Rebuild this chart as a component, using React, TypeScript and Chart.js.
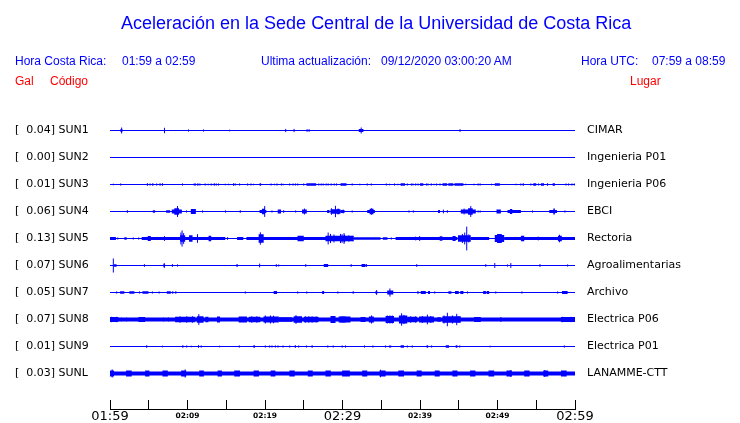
import React, { useEffect, useRef } from 'react';
import { Chart, registerables } from 'chart.js';

Chart.register(...registerables);

const BLUE = '#0000ff';
const RED = '#ff0000';

const stationCodes = ['SUN1', 'SUN2', 'SUN3', 'SUN4', 'SUN5', 'SUN6', 'SUN7', 'SUN8', 'SUN9', 'SUNL'];
const stationPlaces = ['CIMAR', 'Ingenieria P01', 'Ingenieria P06', 'EBCI', 'Rectoria', 'Agroalimentarias', 'Archivo', 'Electrica P06', 'Electrica P01', 'LANAMME-CTT'];
const stationPeaks = [0.04, 0.0, 0.01, 0.06, 0.13, 0.07, 0.05, 0.07, 0.01, 0.03];
// continuous background noise half-amplitude (fraction of trace spacing)
const stationNoise = [0, 0, 0, 0, 0, 0, 0, 0.07, 0, 0.075];

// minutes after 01:59
const tickMinutes = [0, 5, 10, 15, 20, 25, 30, 35, 40, 45, 50, 55, 60];
const tickLabels = ['01:59', '', '02:09', '', '02:19', '', '02:29', '', '02:39', '', '02:49', '', '02:59'];
const majorLabels = ['01:59', '02:29', '02:59'];

type Ev = [number, number, number]; // [start minute, end minute, half amplitude]

const sun1Events: Ev[] = [
  [1.35, 1.6, 0.06], [1.5, 1.5, 0.11], [7.03, 7.03, 0.1], [10.13, 10.13, 0.04], [12.07, 12.07, 0.04],
  [15.43, 15.43, 0.03], [22.67, 22.67, 0.06], [23.75, 23.75, 0.06], [25.43, 25.43, 0.05], [25.69, 25.69, 0.05],
  [32.1, 32.7, 0.06], [32.41, 32.41, 0.11], [45.17, 45.17, 0.05],
];
const sun2Events: Ev[] = [];
const sun3Events: Ev[] = [
  [0.43, 0.43, 0.03], [1.38, 1.38, 0.04], [4.83, 4.83, 0.05], [5.17, 5.17, 0.04], [5.52, 5.52, 0.05], [6.03, 6.03, 0.04],
  [6.46, 6.46, 0.05], [6.77, 6.77, 0.05], [9.35, 9.35, 0.04], [10.8, 11.1, 0.04], [11.34, 11.34, 0.05], [11.6, 11.6, 0.04],
  [12.28, 12.28, 0.04], [12.67, 12.67, 0.03], [13.06, 13.06, 0.04], [13.45, 13.45, 0.05], [13.71, 13.71, 0.04],
  [14.01, 14.01, 0.04], [14.87, 14.87, 0.03], [15.3, 15.3, 0.03], [15.95, 15.95, 0.05], [16.16, 16.16, 0.04],
  [16.72, 16.72, 0.04], [17.76, 17.76, 0.04], [18.19, 18.19, 0.04], [18.53, 18.53, 0.03], [19.3, 19.5, 0.05],
  [20.78, 20.78, 0.04], [21.21, 21.21, 0.03], [21.55, 21.55, 0.04], [22.11, 22.11, 0.04], [22.33, 22.33, 0.03],
  [23.19, 23.19, 0.04], [23.62, 23.62, 0.04], [23.92, 23.92, 0.04], [24.22, 24.22, 0.04], [25.0, 25.0, 0.04],
  [25.34, 26.6, 0.05], [26.94, 26.94, 0.04], [27.24, 27.24, 0.04], [27.5, 27.5, 0.04], [27.89, 27.89, 0.04],
  [28.15, 28.15, 0.04], [28.53, 28.53, 0.04], [28.92, 28.92, 0.04], [29.22, 29.22, 0.04], [29.74, 30.52, 0.05],
  [31.25, 31.25, 0.04], [32.24, 32.24, 0.03], [33.19, 33.19, 0.04], [33.71, 33.71, 0.04], [35.65, 35.65, 0.04],
  [36.08, 36.08, 0.03], [36.72, 36.72, 0.04], [37.15, 37.15, 0.03], [37.5, 38.06, 0.05], [38.36, 38.36, 0.04],
  [38.88, 38.88, 0.04], [39.09, 39.09, 0.04], [39.44, 39.44, 0.04], [39.74, 39.74, 0.04], [40.0, 40.43, 0.05],
  [40.82, 40.82, 0.04], [41.03, 41.03, 0.04], [41.46, 41.46, 0.04], [41.81, 41.81, 0.03], [42.15, 42.15, 0.04],
  [42.58, 42.58, 0.04], [42.9, 43.5, 0.05], [43.65, 44.3, 0.05], [44.45, 45.6, 0.05], [45.9, 45.9, 0.03],
  [46.98, 46.98, 0.03], [47.5, 47.5, 0.04], [47.76, 47.76, 0.04], [49.22, 49.22, 0.03], [49.65, 50.3, 0.05],
  [52.37, 52.37, 0.03], [53.02, 53.02, 0.04], [53.32, 53.32, 0.05], [54.31, 54.31, 0.04], [54.61, 55.0, 0.05],
  [55.3, 55.3, 0.04], [55.6, 56.0, 0.05], [56.46, 56.46, 0.05], [57.11, 57.41, 0.05], [58.84, 58.84, 0.04],
  [59.18, 59.18, 0.04], [59.61, 59.61, 0.04], [59.91, 59.91, 0.04],
];
const sun4Events: Ev[] = [
  [2.24, 2.24, 0.05], [5.52, 5.82, 0.05], [7.24, 7.76, 0.05], [7.97, 9.27, 0.07], [8.3, 8.9, 0.12], [8.71, 8.71, 0.2],
  [9.87, 9.87, 0.04], [10.43, 11.08, 0.09], [11.94, 11.94, 0.04], [14.91, 14.91, 0.04], [16.81, 16.81, 0.05],
  [19.3, 20.17, 0.06], [19.6, 20.0, 0.1], [19.96, 19.96, 0.2], [20.9, 20.9, 0.04], [21.64, 22.07, 0.07],
  [22.41, 22.41, 0.05], [23.96, 23.96, 0.04], [24.78, 25.39, 0.07], [25.09, 25.09, 0.11], [28.02, 28.32, 0.06],
  [28.45, 29.74, 0.08], [28.58, 28.58, 0.12], [29.09, 29.09, 0.21], [29.3, 29.6, 0.1], [30.09, 30.09, 0.07],
  [29.74, 30.26, 0.06], [31.25, 31.25, 0.04], [33.19, 34.18, 0.06], [33.5, 34.0, 0.1], [33.75, 33.75, 0.12],
  [38.58, 38.58, 0.04], [39.14, 39.14, 0.04], [42.33, 42.58, 0.06], [43.02, 43.02, 0.07], [43.53, 43.53, 0.05],
  [45.26, 47.2, 0.07], [45.69, 45.69, 0.11], [46.2, 46.8, 0.12], [46.55, 46.55, 0.2], [47.5, 47.5, 0.04],
  [47.76, 47.76, 0.04], [49.87, 50.43, 0.07], [51.29, 53.02, 0.06], [51.6, 51.9, 0.09], [54.52, 54.52, 0.04],
  [56.68, 57.67, 0.06], [57.2, 57.4, 0.11], [58.7, 58.7, 0.04],
];
const sun5Events: Ev[] = [
  [0.0, 0.77, 0.06], [1.0, 1.0, 0.04], [1.85, 2.15, 0.05], [3.0, 3.0, 0.04], [3.7, 3.7, 0.04], [4.09, 14.87, 0.06],
  [4.87, 5.26, 0.09], [7.03, 7.03, 0.09], [9.05, 9.7, 0.12], [9.15, 9.15, 0.22], [9.3, 9.3, 0.3], [9.5, 9.5, 0.2],
  [10.2, 10.65, 0.12], [11.29, 11.29, 0.16], [12.72, 13.06, 0.1], [15.17, 15.17, 0.05], [16.4, 17.2, 0.06],
  [17.6, 30.4, 0.06], [19.18, 19.83, 0.16], [19.4, 19.4, 0.23], [24.2, 25.0, 0.1], [27.8, 30.4, 0.1],
  [28.15, 28.15, 0.22], [28.45, 28.45, 0.17], [28.9, 28.9, 0.15], [29.74, 29.74, 0.17], [30.2, 30.2, 0.2],
  [29.74, 31.46, 0.1], [29.95, 29.95, 0.16], [30.26, 30.26, 0.14], [30.82, 30.82, 0.12], [31.25, 31.25, 0.1],
  [31.46, 34.91, 0.05], [35.2, 35.8, 0.05], [36.3, 36.3, 0.04], [36.85, 44.83, 0.06], [39.44, 39.44, 0.07],
  [39.96, 39.96, 0.09], [42.54, 42.89, 0.08], [44.2, 44.6, 0.09], [44.9, 46.55, 0.12], [45.47, 45.47, 0.17],
  [45.77, 45.77, 0.22], [46.03, 46.03, 0.44], [46.3, 46.3, 0.15], [46.55, 48.92, 0.06], [49.65, 50.86, 0.13],
  [49.95, 50.55, 0.17], [50.86, 60.0, 0.06], [53.02, 53.45, 0.1], [55.26, 55.26, 0.07], [57.8, 58.3, 0.1],
  [58.0, 58.0, 0.14],
];
const sun6Events: Ev[] = [
  [0.43, 0.43, 0.26], [0.5, 0.85, 0.05], [4.44, 4.44, 0.05], [6.9, 7.1, 0.06], [7.0, 7.0, 0.09], [8.06, 8.06, 0.05],
  [8.71, 8.71, 0.04], [16.3, 16.5, 0.05], [19.31, 19.31, 0.07], [21.46, 21.46, 0.05], [21.77, 21.77, 0.04],
  [25.26, 25.26, 0.05], [27.58, 28.15, 0.06], [31.12, 31.12, 0.05], [32.46, 32.97, 0.06], [33.1, 33.1, 0.05],
  [39.5, 39.65, 0.05], [48.49, 48.49, 0.05], [49.65, 49.65, 0.09], [51.29, 51.29, 0.04], [51.72, 51.72, 0.09],
  [55.4, 55.55, 0.05], [59.05, 59.05, 0.04],
];
const sun7Events: Ev[] = [
  [0.86, 0.86, 0.04], [1.3, 1.85, 0.05], [2.5, 3.15, 0.05], [3.8, 3.8, 0.04], [4.18, 4.96, 0.05], [5.47, 5.47, 0.04],
  [6.34, 6.34, 0.04], [7.33, 7.85, 0.05], [8.1, 8.1, 0.05], [8.49, 8.49, 0.05], [17.46, 17.46, 0.04],
  [21.12, 21.55, 0.06], [24.22, 24.22, 0.04], [25.39, 25.39, 0.04], [27.37, 27.63, 0.06], [29.4, 29.4, 0.04],
  [31.38, 31.38, 0.05], [34.26, 34.48, 0.06], [34.4, 34.4, 0.09], [35.77, 36.55, 0.07], [36.12, 36.12, 0.15],
  [39.74, 39.74, 0.06], [40.1, 40.75, 0.06], [41.03, 41.29, 0.06], [41.9, 41.9, 0.04], [43.66, 44.05, 0.05],
  [44.52, 45.0, 0.06], [45.2, 45.6, 0.06], [46.12, 46.12, 0.04], [48.15, 48.5, 0.06], [48.6, 48.92, 0.06],
  [49.78, 49.78, 0.04], [53.15, 53.15, 0.04], [57.76, 57.76, 0.04], [58.32, 59.05, 0.06],
];
const sun8Events: Ev[] = [
  [0.0, 1.08, 0.09], [0.2, 0.2, 0.1], [0.85, 0.85, 0.1], [1.5, 1.5, 0.07], [2.15, 2.15, 0.07], [3.66, 4.53, 0.09],
  [6.9, 6.9, 0.07], [7.55, 7.55, 0.07], [8.4, 11.0, 0.1], [9.05, 9.05, 0.12], [9.9, 9.9, 0.12], [10.65, 10.65, 0.12],
  [11.2, 12.07, 0.12], [11.46, 11.46, 0.2], [12.3, 12.7, 0.1], [13.8, 14.2, 0.11], [16.6, 17.67, 0.11],
  [17.9, 19.4, 0.1], [18.3, 18.3, 0.12], [18.95, 18.95, 0.12], [19.8, 21.77, 0.11], [20.04, 20.04, 0.15],
  [20.7, 20.7, 0.15], [21.1, 21.1, 0.14], [21.77, 23.5, 0.08], [23.7, 24.78, 0.12], [24.0, 24.0, 0.16],
  [25.0, 26.9, 0.1], [25.2, 25.2, 0.12], [25.65, 25.65, 0.12], [26.08, 26.08, 0.12], [26.6, 26.6, 0.11],
  [28.45, 29.1, 0.13], [29.5, 30.4, 0.11], [29.74, 31.03, 0.11], [32.33, 32.97, 0.09], [33.4, 34.05, 0.11],
  [33.75, 33.75, 0.15], [35.56, 36.64, 0.13], [35.78, 35.78, 0.15], [36.12, 36.12, 0.15], [36.42, 36.42, 0.15],
  [37.28, 38.36, 0.15], [37.63, 37.63, 0.23], [37.93, 37.93, 0.17], [38.36, 39.65, 0.1], [38.8, 38.8, 0.12],
  [39.44, 39.44, 0.12], [39.87, 41.81, 0.11], [40.3, 40.3, 0.13], [40.95, 40.95, 0.18], [41.38, 41.38, 0.13],
  [42.24, 42.67, 0.08], [42.89, 45.26, 0.12], [43.1, 43.1, 0.15], [43.53, 43.53, 0.25], [44.18, 44.18, 0.15],
  [44.74, 44.74, 0.21], [45.04, 45.04, 0.12], [46.98, 47.84, 0.09], [50.43, 50.43, 0.09], [58.19, 60.0, 0.09],
  [58.4, 58.4, 0.1], [59.48, 59.48, 0.1],
];
const sun9Events: Ev[] = [
  [4.74, 4.74, 0.05], [6.77, 6.77, 0.03], [9.4, 9.4, 0.05], [9.9, 9.9, 0.04], [10.47, 10.47, 0.03], [11.42, 11.42, 0.05],
  [11.77, 11.77, 0.04], [14.14, 14.14, 0.03], [16.68, 16.68, 0.04], [18.5, 18.7, 0.05], [20.04, 20.04, 0.04],
  [20.6, 20.6, 0.04], [20.9, 20.9, 0.04], [21.34, 21.34, 0.04], [21.68, 21.68, 0.04], [22.33, 22.33, 0.04],
  [23.19, 23.19, 0.04], [23.84, 24.0, 0.05], [24.35, 24.35, 0.04], [25.34, 25.34, 0.04], [26.08, 26.08, 0.05],
  [28.1, 28.1, 0.04], [28.8, 28.8, 0.04], [29.96, 29.96, 0.04], [30.39, 30.39, 0.04], [32.84, 32.84, 0.04],
  [33.92, 33.92, 0.04], [35.56, 35.56, 0.04], [35.99, 36.29, 0.04], [37.5, 37.93, 0.05], [38.36, 38.36, 0.04],
  [39.0, 39.0, 0.04], [40.85, 41.05, 0.05], [41.5, 41.5, 0.04], [43.32, 43.75, 0.05], [44.61, 44.83, 0.05],
  [45.13, 45.13, 0.04], [49.05, 49.05, 0.03], [58.62, 58.62, 0.04],
];
const sunLEvents: Ev[] = [
  [0.0, 0.52, 0.11], [0.28, 0.28, 0.15], [2.07, 2.8, 0.11], [4.53, 5.09, 0.11], [6.77, 7.46, 0.11], [9.18, 9.83, 0.11],
  [9.7, 9.7, 0.15], [11.51, 12.11, 0.11], [13.88, 14.44, 0.11], [16.03, 16.77, 0.11], [18.53, 19.22, 0.11],
  [20.73, 21.34, 0.11], [23.15, 23.84, 0.11], [25.52, 26.16, 0.11], [27.8, 28.49, 0.11], [29.95, 30.95, 0.11],
  [32.54, 33.19, 0.11], [34.78, 35.56, 0.11], [34.9, 34.9, 0.14], [37.2, 37.93, 0.11], [39.57, 40.21, 0.11],
  [41.9, 42.54, 0.11], [44.18, 44.83, 0.11], [46.46, 47.15, 0.11], [48.84, 49.57, 0.11], [51.16, 51.85, 0.11],
  [51.72, 51.72, 0.13], [53.45, 54.14, 0.11], [55.9, 56.55, 0.11], [56.1, 56.1, 0.13], [58.19, 58.92, 0.11],
];

const stationEvents = [sun1Events, sun2Events, sun3Events, sun4Events, sun5Events, sun6Events, sun7Events, sun8Events, sun9Events, sunLEvents];

const leftLabels = stationCodes.map((c, i) => `[${stationPeaks[i].toFixed(2).padStart(6, ' ')}] ${c}`);

const pxPerUnit = (chart: any) => {
  const s = chart.scales.y;
  return Math.abs(s.getPixelForValue(1) - s.getPixelForValue(0));
};
const pxPerMin = (chart: any) => {
  const s = chart.scales.x;
  return Math.abs(s.getPixelForValue(1) - s.getPixelForValue(0));
};

const textBase: React.CSSProperties = {
  position: 'absolute',
  whiteSpace: 'pre',
  fontFamily: '"Liberation Sans", Arial, sans-serif',
  lineHeight: 1,
  margin: 0,
};

export default function App() {
  const ref = useRef<HTMLCanvasElement>(null);

  useEffect(() => {
    const canvas = ref.current;
    if (!canvas) return;
    const datasets: any[] = [];
    stationCodes.forEach((code, i) => {
      datasets.push({
        type: 'line',
        label: code + ' base',
        data: [{ x: 0, y: i }, { x: 60, y: i }],
        borderColor: BLUE,
        backgroundColor: BLUE,
        pointRadius: 0,
        fill: false,
        tension: 0,
        borderCapStyle: 'butt',
        borderWidth: (ctx: any) => Math.max(1, 2 * stationNoise[i] * pxPerUnit(ctx.chart)),
      });
      datasets.push({
        type: 'scatter',
        label: code,
        data: stationEvents[i].map(([t0, t1, a]) => ({ x: (t0 + t1) / 2, y: i, a, d: t1 - t0 })),
        pointStyle: 'line',
        pointRotation: 90,
        pointBorderColor: BLUE,
        pointBackgroundColor: BLUE,
        pointRadius: (ctx: any) => (ctx.raw ? ctx.raw.a * pxPerUnit(ctx.chart) : 0),
        pointBorderWidth: (ctx: any) => (ctx.raw ? Math.max(1, ctx.raw.d * pxPerMin(ctx.chart)) : 1),
      });
    });

    const yCommon = {
      type: 'linear',
      min: -1,
      max: 10.3148,
      reverse: true,
      grid: { display: false, drawTicks: false },
      border: { display: false },
      afterBuildTicks: (s: any) => {
        s.ticks = stationCodes.map((_, i) => ({ value: i }));
      },
    };

    const chart = new Chart(canvas, {
      type: 'scatter',
      data: { datasets },
      options: {
        responsive: false,
        animation: false,
        events: [],
        layout: { padding: { left: 15, top: 103.5, right: 0, bottom: 0 } },
        plugins: {
          legend: { display: false },
          tooltip: { enabled: false },
          title: { display: false },
        },
        scales: {
          x: {
            type: 'linear',
            position: 'bottom',
            min: 0,
            max: 60,
            afterBuildTicks: (s: any) => {
              s.ticks = tickMinutes.map((v) => ({ value: v }));
            },
            afterFit: (s: any) => {
              s.height = 14;
            },
            grid: {
              drawOnChartArea: false,
              drawTicks: true,
              tickLength: -9,
              color: '#000',
              tickColor: '#000',
              tickWidth: 1,
            },
            border: { display: true, color: '#000', width: 1 },
            ticks: {
              autoSkip: false,
              maxRotation: 0,
              minRotation: 0,
              padding: 10,
              color: '#000',
              callback: (_v: any, idx: number) => tickLabels[idx],
              font: (ctx: any) => {
                const lbl = tickLabels[ctx.index] || '';
                const big = majorLabels.includes(lbl);
                return {
                  family: '"DejaVu Sans", sans-serif',
                  size: big ? 13 : 7.5,
                  weight: big ? 'normal' : 'bold',
                  lineHeight: '13px',
                };
              },
            },
          },
          y: {
            ...yCommon,
            position: 'left',
            afterFit: (s: any) => {
              s.width = 95;
              s.paddingTop = 0;
              s.paddingBottom = 0;
            },
            ticks: {
              autoSkip: false,
              crossAlign: 'far',
              padding: 0,
              color: '#000',
              font: { family: '"DejaVu Sans", sans-serif', size: 11 },
              callback: (v: any) => leftLabels[v] ?? '',
            },
          },
          y2: {
            ...yCommon,
            position: 'right',
            afterFit: (s: any) => {
              s.width = 165;
              s.paddingTop = 0;
              s.paddingBottom = 0;
            },
            ticks: {
              autoSkip: false,
              crossAlign: 'near',
              padding: 12,
              color: '#000',
              font: { family: '"DejaVu Sans", sans-serif', size: 11 },
              callback: (v: any) => stationPlaces[v] ?? '',
            },
          },
        },
      } as any,
    });
    return () => chart.destroy();
  }, []);

  return (
    <div style={{ position: 'absolute', left: 0, top: 0, width: 740, height: 423, background: '#fff', overflow: 'hidden' }}>
      <canvas ref={ref} width={740} height={423} style={{ position: 'absolute', left: 0, top: 0, width: 740, height: 423 }} />
      <div style={{ ...textBase, left: 121, top: 14, fontSize: 18, color: BLUE }}>
        Aceleración en la Sede Central de la Universidad de Costa Rica
      </div>
      <div style={{ ...textBase, left: 15, top: 55, fontSize: 12, color: BLUE }}>Hora Costa Rica:</div>
      <div style={{ ...textBase, left: 122, top: 55, fontSize: 12, color: BLUE }}>01:59 a 02:59</div>
      <div style={{ ...textBase, left: 261, top: 55, fontSize: 12, color: BLUE }}>Ultima actualización:</div>
      <div style={{ ...textBase, left: 381, top: 55, fontSize: 12, color: BLUE }}>09/12/2020 03:00:20 AM</div>
      <div style={{ ...textBase, left: 581, top: 55, fontSize: 12, color: BLUE }}>Hora UTC:</div>
      <div style={{ ...textBase, left: 652, top: 55, fontSize: 12, color: BLUE }}>07:59 a 08:59</div>
      <div style={{ ...textBase, left: 15, top: 75, fontSize: 12, color: RED }}>Gal</div>
      <div style={{ ...textBase, left: 50, top: 75, fontSize: 12, color: RED }}>Código</div>
      <div style={{ ...textBase, left: 630, top: 75, fontSize: 12, color: RED }}>Lugar</div>
    </div>
  );
}
